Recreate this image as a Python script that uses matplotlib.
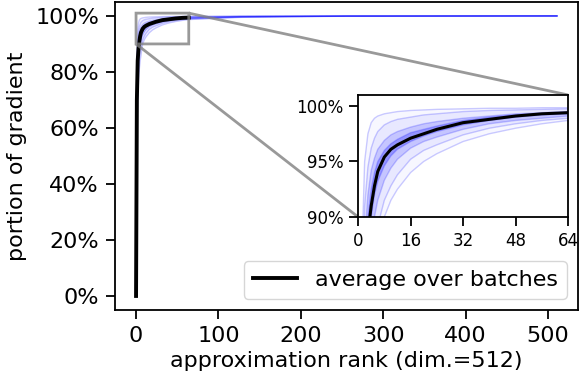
import numpy as np
import matplotlib
matplotlib.use("Agg")
import matplotlib.pyplot as plt
from matplotlib.ticker import PercentFormatter

# approximation ranks at which the curves were read off
ranks = [0, 1, 2, 3, 4, 5, 6, 8, 10, 12, 16, 20, 24, 32, 40, 48, 56, 64, 128, 256, 511]

# average over batches (only shown up to rank 64)
avg_ranks = [0, 1, 2, 3, 4, 5, 6, 8, 10, 12, 16, 20, 24, 32, 40, 48, 56, 64]
avg = [0, 0.70, 0.84, 0.885, 0.910, 0.928, 0.941, 0.954, 0.961, 0.965, 0.971, 0.975,
       0.979, 0.985, 0.988, 0.991, 0.993, 0.994]

# individual batches (from top of the band to bottom)
b1 = [0, 0.85, 0.95, 0.975, 0.985, 0.989, 0.991, 0.993, 0.994, 0.995, 0.996, 0.9965,
      0.997, 0.9975, 0.998, 0.998, 0.9985, 0.9985, 0.999, 0.9998, 1.0]
b2 = [0, 0.80, 0.91, 0.945, 0.962, 0.971, 0.977, 0.983, 0.986, 0.988, 0.990, 0.992,
      0.993, 0.995, 0.996, 0.9965, 0.997, 0.9975, 0.999, 0.9997, 1.0]
b3 = [0, 0.76, 0.88, 0.92, 0.942, 0.953, 0.961, 0.969, 0.974, 0.977, 0.981, 0.984,
      0.986, 0.989, 0.991, 0.993, 0.994, 0.995, 0.998, 0.9995, 1.0]
b4 = [0, 0.72, 0.86, 0.90, 0.925, 0.94, 0.95, 0.96, 0.966, 0.97, 0.976, 0.979,
      0.982, 0.987, 0.990, 0.992, 0.993, 0.9945, 0.998, 0.9995, 1.0]
b5 = [0, 0.68, 0.82, 0.87, 0.90, 0.92, 0.932, 0.946, 0.955, 0.961, 0.968, 0.973,
      0.977, 0.983, 0.987, 0.990, 0.992, 0.993, 0.997, 0.9994, 1.0]
b6 = [0, 0.64, 0.79, 0.845, 0.88, 0.90, 0.915, 0.933, 0.944, 0.952, 0.962, 0.968,
      0.972, 0.979, 0.984, 0.987, 0.989, 0.991, 0.997, 0.9993, 1.0]
b7 = [0, 0.60, 0.75, 0.81, 0.85, 0.875, 0.892, 0.915, 0.928, 0.938, 0.952, 0.960,
      0.965, 0.974, 0.980, 0.984, 0.987, 0.989, 0.996, 0.9992, 1.0]
b8 = [0, 0.55, 0.70, 0.77, 0.81, 0.84, 0.86, 0.90, 0.915, 0.925, 0.940, 0.950,
      0.957, 0.968, 0.975, 0.980, 0.984, 0.987, 0.995, 0.999, 1.0]
batches = [b1, b2, b3, b4, b5, b6, b7, b8]

plt.rcParams['font.size'] = 16
plt.rcParams['axes.linewidth'] = 1.3
for k in ('xtick', 'ytick'):
    plt.rcParams[k + '.major.size'] = 6.5
    plt.rcParams[k + '.major.width'] = 1.3
    plt.rcParams[k + '.major.pad'] = 5

fig = plt.figure(figsize=(5.82, 3.86), dpi=100)
ax = fig.add_axes([0.1976, 0.197, 0.7955, 0.798])


def draw(a, lw_avg):
    # shaded band, darker towards the middle
    a.fill_between(ranks, b1, b8, color='blue', alpha=0.03, lw=0)
    a.fill_between(ranks, b2, b7, color='blue', alpha=0.06, lw=0)
    a.fill_between(ranks, b3, b6, color='blue', alpha=0.15, lw=0)
    a.fill_between(ranks, b4, b5, color='blue', alpha=0.25, lw=0)
    for b in batches:
        a.plot(ranks, b, color='blue', alpha=0.2, lw=1)
    return a.plot(avg_ranks, avg, color='black', lw=lw_avg)


line, = draw(ax, 2.8)
ax.yaxis.set_major_formatter(PercentFormatter(1.0, decimals=0))
ax.set_xlabel('approximation rank (dim.=512)')
ax.set_ylabel('portion of gradient', labelpad=6)
ax.legend([line], ['average over batches'], loc='lower right', handlelength=2)

# zoomed inset
axins = ax.inset_axes([0.525, 0.302, 0.4536, 0.396])
draw(axins, 2.2)
axins.set_xlim(0, 64)
axins.set_ylim(0.90, 1.01)
axins.set_xticks([0, 16, 32, 48, 64])
axins.set_yticks([0.90, 0.95, 1.00])
axins.yaxis.set_major_formatter(PercentFormatter(1.0, decimals=0))
axins.tick_params(labelsize=12, pad=4)
ind = ax.indicate_inset_zoom(axins, edgecolor='gray', alpha=0.8, linewidth=2)
# connectors: lower-left, upper-left, lower-right, upper-right
for c, vis in zip(ind.connectors, [True, False, False, True]):
    c.set_visible(vis)

fig.savefig('out.png', dpi=100)
